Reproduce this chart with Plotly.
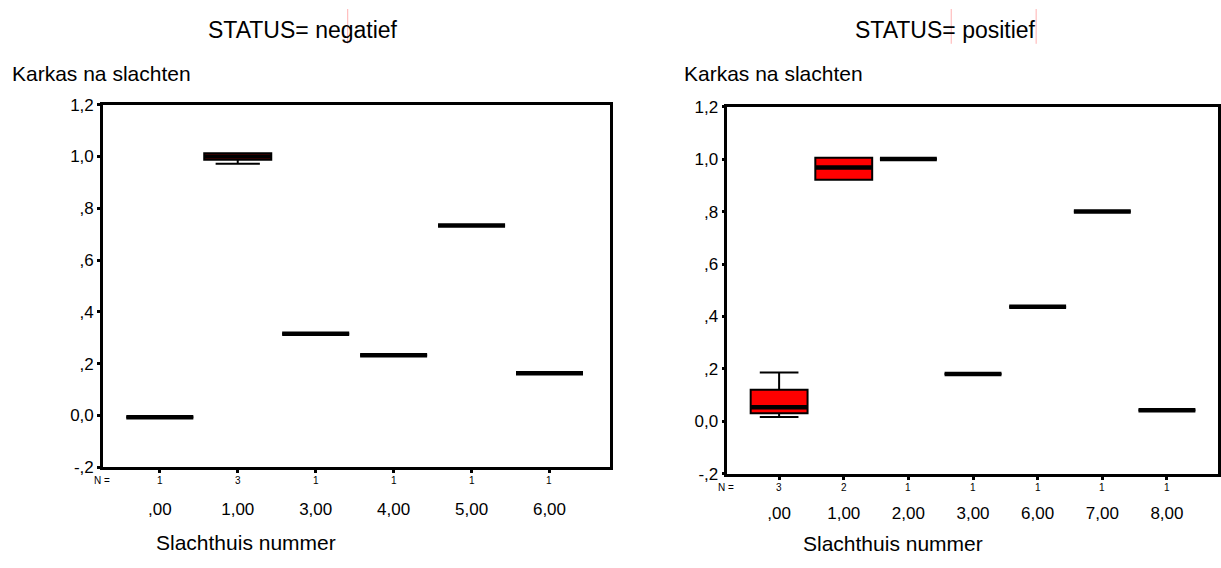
import plotly.graph_objects as go

W, H = 1221, 568

# ---------------- data ----------------
cats_neg = [",00", "1,00", "3,00", "4,00", "5,00", "6,00"]
n_neg = [1, 3, 1, 1, 1, 1]
q1_neg = [-0.007, 0.987, 0.315, 0.232, 0.733, 0.163]
med_neg = [-0.007, 1.000, 0.315, 0.232, 0.733, 0.163]
q3_neg = [-0.007, 1.012, 0.315, 0.232, 0.733, 0.163]
lo_neg = [-0.007, 0.972, 0.315, 0.232, 0.733, 0.163]
hi_neg = [-0.007, 1.012, 0.315, 0.232, 0.733, 0.163]

cats_pos = [",00", "1,00", "2,00", "3,00", "6,00", "7,00", "8,00"]
n_pos = [3, 2, 1, 1, 1, 1, 1]
q1_pos = [0.031, 0.921, 1.000, 0.181, 0.437, 0.800, 0.043]
med_pos = [0.054, 0.968, 1.000, 0.181, 0.437, 0.800, 0.043]
q3_pos = [0.121, 1.005, 1.000, 0.181, 0.437, 0.800, 0.043]
lo_pos = [0.017, 0.921, 1.000, 0.181, 0.437, 0.800, 0.043]
hi_pos = [0.187, 1.005, 1.000, 0.181, 0.437, 0.800, 0.043]

y_tickvals = [-0.2, 0.0, 0.2, 0.4, 0.6, 0.8, 1.0, 1.2]
y_ticktext = ["-,2", "0,0", ",2", ",4", ",6", ",8", "1,0", "1,2"]

FONT = "Liberation Sans, Arial, sans-serif"

fig = go.Figure()


def add_panel(cats, q1, med, q3, lo, hi, xa, ya, bw, ww):
    fig.add_trace(go.Box(
        x=cats, q1=q1, median=med, q3=q3, lowerfence=lo, upperfence=hi,
        fillcolor="#ff0000", line=dict(color="black", width=2),
        width=bw, whiskerwidth=ww, xaxis=xa, yaxis=ya,
        showlegend=False, hoverinfo="skip"))
    # thick median lines
    fig.add_trace(go.Box(
        x=cats, q1=med, median=med, q3=med, lowerfence=med, upperfence=med,
        fillcolor="black", line=dict(color="black", width=4.5),
        width=bw, xaxis=xa, yaxis=ya, showlegend=False, hoverinfo="skip"))


add_panel(cats_neg, q1_neg, med_neg, q3_neg, lo_neg, hi_neg, "x", "y", 0.86, 0.66)
add_panel(cats_pos, q1_pos, med_pos, q3_pos, lo_pos, hi_pos, "x2", "y2", 0.88, 0.68)


def px_x(p):
    return p / W


def px_y(p):
    return 1 - p / H


axis_common = dict(showline=True, linecolor="black", linewidth=2.5, mirror=True,
                   showgrid=False, zeroline=False, ticks="outside", ticklen=3,
                   tickwidth=3, tickcolor="black",
                   tickfont=dict(family=FONT, size=17, color="black"))

fig.update_layout(
    width=W, height=H, margin=dict(l=0, r=0, t=0, b=0),
    paper_bgcolor="white", plot_bgcolor="white",
    font=dict(family=FONT, color="black"),
    xaxis=dict(domain=[px_x(103), px_x(610)], type="category",
               categoryorder="array", categoryarray=cats_neg,
               range=[-0.73, 5.77], anchor="y", ticklabelstandoff=22,
               **axis_common),
    yaxis=dict(domain=[px_y(474), px_y(99)], range=[-0.2, 1.2],
               tickvals=y_tickvals, ticktext=y_ticktext, anchor="x",
               **axis_common),
    xaxis2=dict(domain=[px_x(728), px_x(1219)], type="category",
                categoryorder="array", categoryarray=cats_pos,
                range=[-0.80, 6.79], anchor="y2", ticklabelstandoff=19,
                **axis_common),
    yaxis2=dict(domain=[px_y(481), px_y(101)], range=[-0.2, 1.2],
                tickvals=y_tickvals, ticktext=y_ticktext, anchor="x2",
                **axis_common),
)

ann = []


def txt(text, x, y, size, xanchor="center"):
    ann.append(dict(text=text, x=px_x(x), y=px_y(y), xref="paper", yref="paper",
                    xanchor=xanchor, yanchor="middle", showarrow=False,
                    font=dict(size=size)))


# titles
txt("STATUS= negatief", 303, 22, 23)
txt("STATUS= positief", 946, 22, 23)
txt("Karkas na slachten", 10, 67, 21, "left")
txt("Karkas na slachten", 683, 67, 21, "left")
txt("Slachthuis nummer", 246, 552, 21)
txt("Slachthuis nummer", 894, 553, 21)
# N rows
txt("N =", 102, 488, 10)
txt("N =", 727, 495, 10)
for c, n in zip(cats_neg, n_neg):
    ann.append(dict(text=str(n), x=c, y=px_y(488), xref="x", yref="paper",
                    yanchor="middle", showarrow=False, font=dict(size=10)))
for c, n in zip(cats_pos, n_pos):
    ann.append(dict(text=str(n), x=c, y=px_y(495), xref="x2", yref="paper",
                    yanchor="middle", showarrow=False, font=dict(size=10)))
fig.update_layout(annotations=ann)

# faint pink guide artefacts at the top
shapes = []
for xp in [348, 952, 1037]:
    shapes.append(dict(type="line", xref="paper", yref="paper",
                       x0=px_x(xp), x1=px_x(xp), y0=1, y1=px_y(36),
                       line=dict(color="#ffb0b0", width=1)))
fig.update_layout(shapes=shapes)

fig.write_html("out.html", config={"displayModeBar": False},
               post_script="document.body.style.margin='0px';")
